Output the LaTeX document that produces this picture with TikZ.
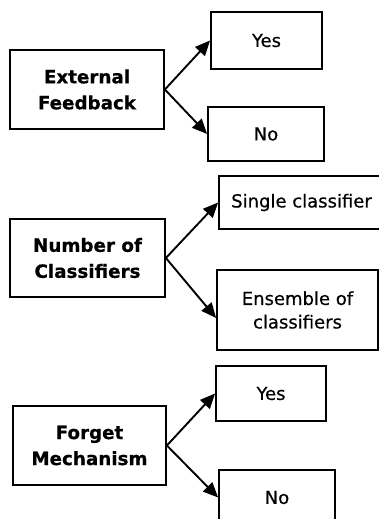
\documentclass[tikz,border=0pt]{standalone}
\usepackage{fontspec}
\setmainfont{DejaVu Sans}
% slightly heavier faces for the labels
\newfontfamily\labelfont{DejaVu Sans}[FakeBold=0.5]
\newfontfamily\headfont{DejaVu Sans Bold}[FakeBold=0.6]
\usetikzlibrary{arrows.meta}
\tikzset{
  box/.style={draw, line width=1.8pt, inner sep=0pt, align=center,
    font=\labelfont\fontsize{18}{23.5}\selectfont},
  head/.style={box, font=\headfont\fontsize{18.3}{26}\selectfont},
  link/.style={line width=1.9pt, -{Triangle[length=15pt,width=13pt]}}
}
\begin{document}
\begin{tikzpicture}[x=1pt,y=-1pt]
  \useasboundingbox (0,0) rectangle (379,519);
  \clip (0,0) rectangle (379,519);

  % External feedback
  \node[head, minimum width=154pt, minimum height=79pt] (ef) at (87,89.5) {External\\Feedback};
  \node[box, minimum width=111pt, minimum height=57pt] (y1) at (266.5,40.5) {Yes};
  \node[box, minimum width=116pt, minimum height=54pt] (n1) at (266,134) {No};
  \draw[link] (ef.east) -- (y1.west);
  \draw[link] (ef.east) -- (n1.west);

  % Number of classifiers
  \node[head, minimum width=155pt, minimum height=78pt] (nc) at (87.5,258) {Number of\\Classifiers};
  \node[box, minimum width=165pt, minimum height=53pt] (sc) at (301.5,202.5) {Single classifier};
  \node[box, minimum width=161pt, minimum height=80pt] (en) at (297.5,310) {Ensemble of\\classifiers};
  \draw[link] (nc.east) -- (sc.west);
  \draw[link] (nc.east) -- ([yshift=-8pt]en.west);

  % Forget mechanism
  \node[head, minimum width=153pt, minimum height=79pt] (fm) at (89.5,445.5) {Forget\\Mechanism};
  \node[box, minimum width=110pt, minimum height=55pt] (y3) at (271,393.5) {Yes};
  \node[box, minimum width=116pt, minimum height=55pt] (n3) at (277,497.5) {No};
  \draw[link] (fm.east) -- (y3.west);
  \draw[link] (fm.east) -- (n3.west);
\end{tikzpicture}
\end{document}
